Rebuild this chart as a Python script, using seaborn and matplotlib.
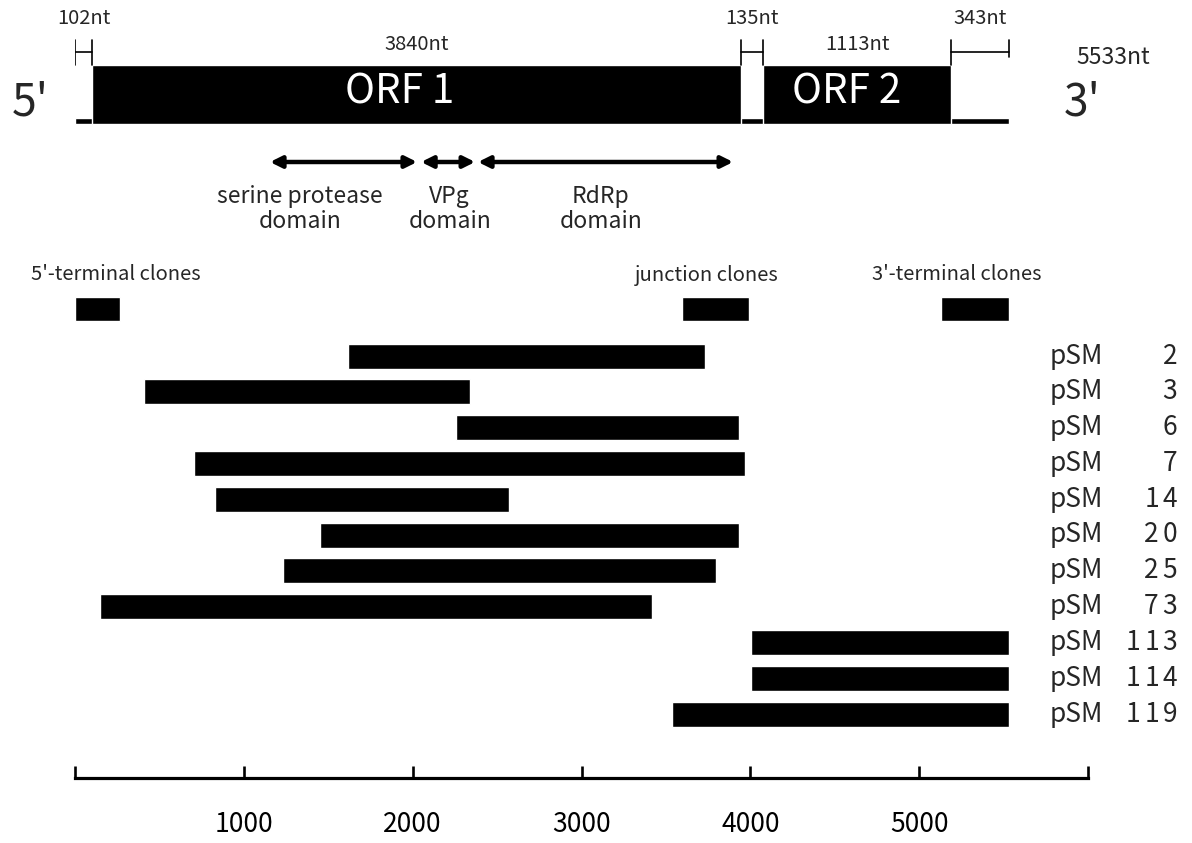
import matplotlib
matplotlib.use("Agg")
import matplotlib.pyplot as plt
import seaborn as sns

# ---------------- data ----------------
genome_len = 5533
region_names = ["5'UTR", "ORF 1", "spacer", "ORF 2", "3'UTR"]
region_lengths = [102, 3840, 135, 1113, 343]
region_length_labels = ["102nt", "3840nt", "135nt", "1113nt", "343nt"]

domain_names = ["serine protease\ndomain", "VPg\ndomain", "RdRp\ndomain"]
domain_starts = [1155, 2050, 2387]
domain_ends = [2026, 2370, 3898]
domain_label_x = [1332, 2220, 3115]

group_names = ["5'-terminal clones", "junction clones", "3'-terminal clones"]
group_starts = [0, 3596, 5130]
group_ends = [267, 3990, 5533]
group_label_x = [240, 3740, 5225]

clone_names = ["2", "3", "6", "7", "14", "20", "25", "73", "113", "114", "119"]
clone_starts = [1617, 409, 2257, 705, 829, 1451, 1232, 148, 4005, 4005, 3537]
clone_ends = [3732, 2340, 3934, 3969, 2571, 3934, 3797, 3418, 5533, 5533, 5533]

tick_values = [0, 1000, 2000, 3000, 4000, 5000, 6000]
tick_labels = ["", "1000", "2000", "3000", "4000", "5000", ""]

# ---------------- style ----------------
sns.set_theme(style="white")
plt.rcParams['font.family'] = ['Noto Sans CJK JP', 'DejaVu Sans']

W, H = 1192, 843
fig = plt.figure(figsize=(W / 100, H / 100), dpi=100)
ax_left_px, ax_right_px = 75, 1088
ax = fig.add_axes([ax_left_px / W, 0, (ax_right_px - ax_left_px) / W, 1])
ax.set_xlim(0, 6000)
ax.set_ylim(H, 0)   # y in pixel units, top = 0


def px2nt(px):
    return (px - ax_left_px) / (ax_right_px - ax_left_px) * 6000


for s in ["left", "top", "right"]:
    ax.spines[s].set_visible(False)
ax.spines["bottom"].set_position(("data", 778))
ax.spines["bottom"].set_linewidth(2.3)
ax.spines["bottom"].set_color("black")
ax.set_yticks([])
ax.set_xticks(tick_values)
ax.set_xticklabels(tick_labels)
ax.tick_params(axis="x", direction="in", length=8.5, width=1.9, colors="black",
               pad=24, labelsize=19, bottom=True)
ax.set_xlabel("")

# ---------------- genome map ----------------
bounds = [0]
for L in region_lengths:
    bounds.append(bounds[-1] + L)
box_top, box_bot = 65, 124
base_h = 6
orf_text_px = {1: 400, 3: 847}
# baseline
ax.barh(box_bot - base_h / 2, genome_len, left=0, height=base_h, color="black")
# ORF boxes
for i in (1, 3):
    ax.barh((box_top + box_bot) / 2, region_lengths[i], left=bounds[i],
            height=box_bot - box_top, color="black")
    ax.text(px2nt(orf_text_px[i]), 92, region_names[i], color="white",
            fontsize=29, ha="center", va="center")

# length scale bars
bar_y = 52
for i in (0, 2, 4):
    x0, x1 = bounds[i], bounds[i + 1]
    ax.plot([x0, x1], [bar_y, bar_y], color="black", lw=1.2)
    ax.plot([x0, x0], [40, box_top], color="black", lw=1.2)
    ax.plot([x1, x1], [40, box_top if i < 4 else 57], color="black", lw=1.2)
    ax.text((x0 + x1) / 2, 19, region_length_labels[i], fontsize=14.5,
            ha="center", va="center")
for i in (1, 3):
    ax.text(bounds[i] + region_lengths[i] / 2, 44, region_length_labels[i],
            fontsize=14.5, ha="center", va="center")
ax.text(px2nt(1113), 58, f"{genome_len}nt", fontsize=16.5, ha="center", va="center")
ax.text(px2nt(30), 103, "5'", fontsize=32, ha="center", va="center")
ax.text(px2nt(1082), 103, "3'", fontsize=32, ha="center", va="center")

# domains
for name, s, e, lx in zip(domain_names, domain_starts, domain_ends, domain_label_x):
    ax.annotate("", xy=(s, 162), xytext=(e, 162),
                arrowprops=dict(arrowstyle="<|-|>", color="black", lw=3.2,
                                mutation_scale=17, shrinkA=0, shrinkB=0))
    ax.text(lx, 209, name, fontsize=16.5, ha="center", va="center",
            linespacing=1.12)

# clone groups
for name, s, e, lx in zip(group_names, group_starts, group_ends, group_label_x):
    ax.barh(309, e - s, left=s, height=24, color="black")
    ax.text(lx, 275, name, fontsize=14.5, ha="center", va="center")

# individual clones
row0, row_step = 356, 35.8
digit_cell = 18.3
num_right_px = 1179
for i, (name, s, e) in enumerate(zip(clone_names, clone_starts, clone_ends)):
    y = row0 + i * row_step
    ax.barh(y, e - s, left=s, height=25, color="black")
    ax.text(px2nt(1050), y, "pSM", fontsize=19, ha="left", va="center")
    # tabular-spaced digits, right aligned
    for k, ch in enumerate(reversed(name)):
        cx = num_right_px - digit_cell * (k + 0.5)
        ax.text(px2nt(cx), y, ch, fontsize=19, ha="center", va="center")

fig.savefig("out.png", dpi=100, facecolor="white")
